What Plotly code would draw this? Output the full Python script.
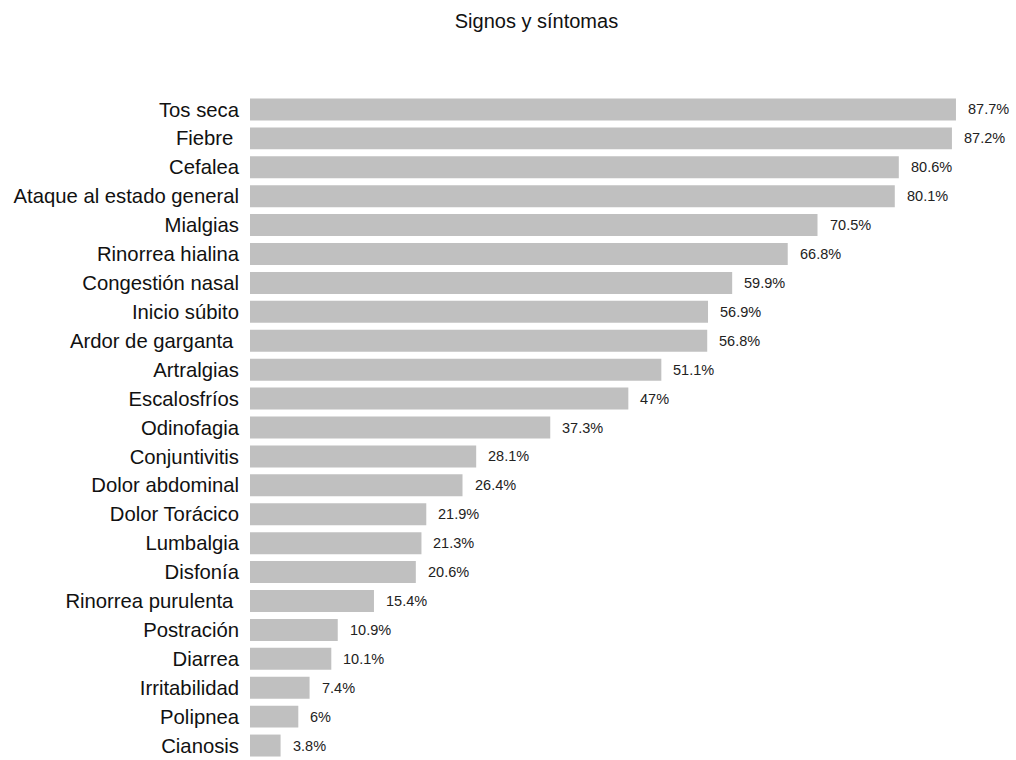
import plotly.graph_objects as go

categories = ["Tos seca", "Fiebre ", "Cefalea", "Ataque al estado general", "Mialgias",
              "Rinorrea hialina", "Congestión nasal", "Inicio súbito", "Ardor de garganta ",
              "Artralgias", "Escalosfríos", "Odinofagia", "Conjuntivitis", "Dolor abdominal",
              "Dolor Torácico", "Lumbalgia", "Disfonía", "Rinorrea purulenta ", "Postración",
              "Diarrea", "Irritabilidad", "Polipnea", "Cianosis"]
values = [87.7, 87.2, 80.6, 80.1, 70.5, 66.8, 59.9, 56.9, 56.8, 51.1, 47, 37.3, 28.1,
          26.4, 21.9, 21.3, 20.6, 15.4, 10.9, 10.1, 7.4, 6, 3.8]
value_labels = [f"{v:g}%" for v in values]

FONT = "Liberation Sans, Arial, sans-serif"

fig = go.Figure(go.Bar(
    x=values, y=categories, orientation="h",
    marker=dict(color="#C0C0C0", line=dict(width=0)),
    hoverinfo="skip",
))

for v, c, t in zip(values, categories, value_labels):
    fig.add_annotation(x=v, y=c, text=t, showarrow=False, xanchor="left",
                       xshift=10, font=dict(family=FONT, size=14.5, color="#222222"))

fig.update_layout(
    width=1016, height=760,
    paper_bgcolor="white", plot_bgcolor="white",
    margin=dict(l=250, r=16, t=95, b=0),
    bargap=0.24,
    showlegend=False,
    title=dict(text="Signos y síntomas", x=0.528, xref="container", xanchor="center",
               y=0.973, yref="container", yanchor="middle",
               font=dict(family=FONT, size=20, color="#111111")),
    xaxis=dict(range=[0, 93.17], visible=False, fixedrange=True),
    yaxis=dict(autorange="reversed", showgrid=False, zeroline=False, showline=False,
               ticks="", ticklabelstandoff=10,
               tickfont=dict(family=FONT, size=20.3, color="#111111")),
)

fig.write_html("out.html")
